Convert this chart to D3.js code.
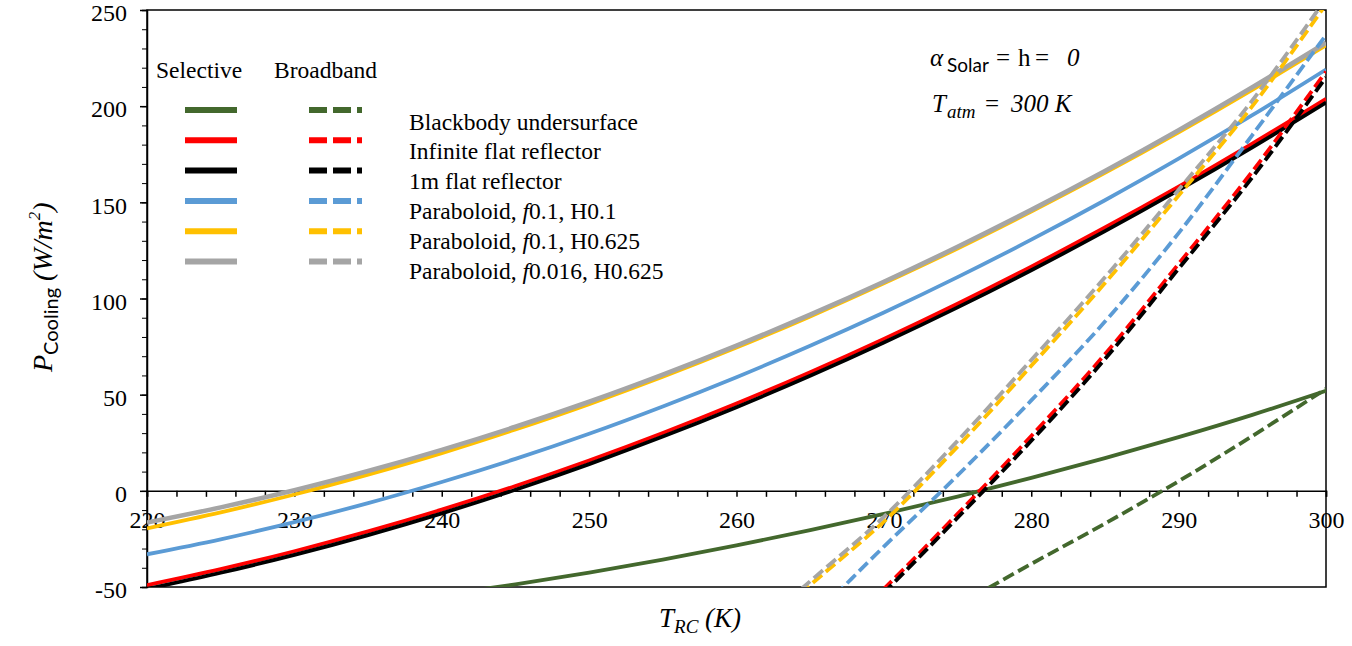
<!DOCTYPE html>
<html>
<head>
<meta charset="utf-8">
<script src="https://cdn.jsdelivr.net/npm/d3@7"></script>
<style>
  body { margin: 0; background: #fff; }
  svg text { font-family: "Liberation Serif", "Times New Roman", serif; fill: #000; }
</style>
</head>
<body>
<div id="chart"></div>
<script>
// Temperatures (K) for each group of curves
const tSel = [220, 225, 230, 235, 240, 245, 250, 255, 260, 265, 270, 275, 280, 285, 290, 295, 300];
const tSelBlackbody = [240, 245, 250, 255, 260, 265, 270, 275, 280, 285, 290, 295, 300];
const tBroad = [260, 265, 270, 275, 280, 285, 290, 295, 300];
const tBroadBlackbody = [270, 275, 280, 285, 290, 295, 300];

// Selective emitter, cooling power (W/m2)
const selBlackbody = [-54, -48.6, -42.5, -35.8, -28.4, -20.4, -12, -3, 6.7, 17, 27.9, 39.5, 52];
const selInfinite = [-49, -40.7, -31.4, -21.1, -9.8, 2.5, 15.8, 30.1, 45.4, 61.7, 79, 97.3, 116.6, 136.9, 158.2, 180.5, 203.8];
const sel1m = [-51, -42.6, -33.3, -23, -11.7, 0.6, 13.9, 28.2, 43.5, 59.8, 77.1, 95.4, 114.7, 135, 156.3, 178.6, 201.9];
const selParabA = [-33, -25.2, -16.3, -6.4, 4.6, 16.6, 29.7, 43.9, 59.1, 75.4, 92.7, 111.1, 130.6, 151.1, 172.7, 195.3, 219];
const selParabB = [-19.5, -11.2, -1.9, 8.4, 19.6, 31.9, 45.1, 59.3, 74.5, 90.7, 107.9, 126, 145.2, 165.3, 186.4, 208.5, 231.6];
const selParabC = [-16.5, -8.6, 0.3, 10.3, 21.3, 33.3, 46.3, 60.4, 75.5, 91.6, 108.7, 126.9, 146.1, 166.3, 187.5, 209.8, 233];

// Broadband emitter, cooling power (W/m2)
const broadBlackbody = [-80, -59.5, -38, -17, 5, 28.5, 53];
const broadInfinite = [-125, -88, -51, -12, 28.5, 71, 118, 166, 218];
const broad1m = [-127, -90, -53, -14, 26, 68.5, 115.5, 163, 215];
const broadParabA = [-103, -67, -29, 8, 47, 88, 134, 185, 237];
const broadParabB = [-83, -49, -16, 23, 65, 108, 153.5, 200, 253];
const broadParabC = [-80, -47, -13.5, 26, 68, 111, 156.5, 203, 256];

const seriesNames = ['Blackbody undersurface', 'Infinite flat reflector', '1m flat reflector',
  'Paraboloid, |f|0.1, H0.1', 'Paraboloid, |f|0.1, H0.625', 'Paraboloid, |f|0.016, H0.625'];
const seriesColors = ['#43682d', '#ff0000', '#000000', '#5b9bd5', '#ffc000', '#a5a5a5'];

const xTicks = [220, 230, 240, 250, 260, 270, 280, 290, 300];
const yTicks = [-50, 0, 50, 100, 150, 200, 250];

const selective = [
  { t: tSelBlackbody, v: selBlackbody },
  { t: tSel, v: selInfinite },
  { t: tSel, v: sel1m },
  { t: tSel, v: selParabA },
  { t: tSel, v: selParabB },
  { t: tSel, v: selParabC }
];
const broadband = [
  { t: tBroadBlackbody, v: broadBlackbody },
  { t: tBroad, v: broadInfinite },
  { t: tBroad, v: broad1m },
  { t: tBroad, v: broadParabA },
  { t: tBroad, v: broadParabB },
  { t: tBroad, v: broadParabC }
];

const W = 1352, H = 646;
const plotLeft = 147, plotRight = 1326, plotTop = 10, plotBottom = 587;

const svg = d3.select('#chart').append('svg')
  .attr('width', W)
  .attr('height', H);

const x = d3.scaleLinear().domain([220, 300]).range([plotLeft, plotRight]);
const y = d3.scaleLinear().domain([-50, 250]).range([plotBottom, plotTop]);

svg.append('clipPath').attr('id', 'plotclip')
  .append('rect')
  .attr('x', plotLeft).attr('y', plotTop)
  .attr('width', plotRight - plotLeft).attr('height', plotBottom - plotTop);

// frame
svg.append('rect')
  .attr('x', plotLeft).attr('y', plotTop)
  .attr('width', plotRight - plotLeft).attr('height', plotBottom - plotTop)
  .attr('fill', 'none').attr('stroke', '#000').attr('stroke-width', 1.5);

// y axis, minor then major
svg.append('g')
  .attr('transform', `translate(${plotLeft},0)`)
  .call(d3.axisLeft(y).tickValues(d3.range(-50, 251, 10)).tickSize(5).tickFormat(''))
  .call(g => g.select('.domain').attr('stroke-width', 1.5));

svg.append('g')
  .attr('transform', `translate(${plotLeft},0)`)
  .call(d3.axisLeft(y).tickValues(yTicks).tickSize(7).tickPadding(13).tickFormat(d => String(d)))
  .call(g => g.select('.domain').remove())
  .call(g => g.selectAll('line').attr('stroke-width', 1.5))
  .call(g => g.selectAll('text')
    .attr('dy', '0.45em')
    .style('font-family', '"Liberation Serif", serif')
    .style('font-size', '24px'));

// x axis sits on the zero line
svg.append('g')
  .attr('transform', `translate(0,${y(0)})`)
  .call(d3.axisBottom(x).tickValues(d3.range(220, 301, 2)).tickSize(6).tickFormat(''))
  .call(g => g.select('.domain').attr('stroke-width', 1.5))
  .call(g => g.selectAll('line').attr('stroke-width', 1.5));

svg.append('g')
  .attr('transform', `translate(0,${y(0)})`)
  .call(d3.axisBottom(x).tickValues(xTicks).tickSize(0).tickPadding(20))
  .call(g => g.select('.domain').remove())
  .call(g => g.selectAll('text')
    .style('font-family', '"Liberation Serif", serif')
    .style('font-size', '24px'));

// curves
const line = d3.line()
  .x(d => x(d[0]))
  .y(d => y(d[1]))
  .curve(d3.curveCatmullRom.alpha(0.5));

const plot = svg.append('g').attr('clip-path', 'url(#plotclip)');

selective.forEach((s, i) => {
  plot.append('path')
    .datum(s.t.map((t, k) => [t, s.v[k]]))
    .attr('d', line)
    .attr('fill', 'none')
    .attr('stroke', seriesColors[i])
    .attr('stroke-width', i === 5 ? 4.6 : 3.8);
});

broadband.forEach((s, i) => {
  plot.append('path')
    .datum(s.t.map((t, k) => [t, s.v[k]]))
    .attr('d', line)
    .attr('fill', 'none')
    .attr('stroke', seriesColors[i])
    .attr('stroke-width', 3.8)
    .attr('stroke-dasharray', '12,5');
});

// legend
const legend = svg.append('g');
legend.append('text').attr('x', 156).attr('y', 78)
  .style('font-size', '23.5px').text('Selective');
legend.append('text').attr('x', 274).attr('y', 78)
  .style('font-size', '23.5px').text('Broadband');

seriesNames.forEach((name, i) => {
  const ly = 110 + i * 30.3;
  legend.append('line')
    .attr('x1', 185).attr('x2', 237).attr('y1', ly).attr('y2', ly)
    .attr('stroke', seriesColors[i]).attr('stroke-width', 6);
  legend.append('line')
    .attr('x1', 309).attr('x2', 362).attr('y1', ly).attr('y2', ly)
    .attr('stroke', seriesColors[i]).attr('stroke-width', 6)
    .attr('stroke-dasharray', '18,6');
  const txt = legend.append('text')
    .attr('x', 409).attr('y', 129.5 + i * 29.8)
    .style('font-size', '23.5px');
  name.split('|').forEach((part, k) => {
    txt.append('tspan')
      .style('font-style', k === 1 ? 'italic' : 'normal')
      .text(part);
  });
});

// annotation
const note1 = svg.append('text').attr('y', 66).style('font-size', '25px');
note1.append('tspan').attr('x', 930).style('font-style', 'italic').text('α');
note1.append('tspan').attr('x', 947).attr('dy', 6)
  .style('font-family', 'Lato, "Liberation Sans", sans-serif')
  .style('font-size', '19px').text('Solar');
note1.append('tspan').attr('x', 996).attr('dy', -6).text('=');
note1.append('tspan').attr('x', 1018).text('h');
note1.append('tspan').attr('x', 1035).text('=');
note1.append('tspan').attr('x', 1067).style('font-style', 'italic').text('0');

const note2 = svg.append('text').attr('y', 112).style('font-size', '25px');
note2.append('tspan').attr('x', 932).style('font-style', 'italic').text('T');
note2.append('tspan').attr('x', 947).attr('dy', 6).style('font-style', 'italic')
  .style('font-size', '19px').text('atm');
note2.append('tspan').attr('x', 985).attr('dy', -6).text('=');
note2.append('tspan').attr('x', 1011).style('font-style', 'italic').text('300 K');

// axis titles
const xTitle = svg.append('text').attr('x', 659).attr('y', 627).style('font-size', '27px');
xTitle.append('tspan').style('font-style', 'italic').text('T');
xTitle.append('tspan').attr('dy', 6).style('font-style', 'italic').style('font-size', '19px').text('RC');
xTitle.append('tspan').attr('dy', -6).style('font-style', 'italic').text(' (K)');

const yTitle = svg.append('text')
  .attr('transform', 'translate(52,372) rotate(-90)')
  .style('font-size', '28px');
yTitle.append('tspan').style('font-style', 'italic').text('P');
yTitle.append('tspan').attr('dy', 6).style('font-family', 'Lato, "Liberation Sans", sans-serif')
  .style('font-size', '20px').text('Cooling');
yTitle.append('tspan').attr('dy', -6).style('font-style', 'italic').text(' (W/m');
yTitle.append('tspan').attr('dy', -12).style('font-style', 'italic').style('font-size', '17px').text('2');
yTitle.append('tspan').attr('dy', 12).style('font-style', 'italic').text(')');
</script>
</body>
</html>
